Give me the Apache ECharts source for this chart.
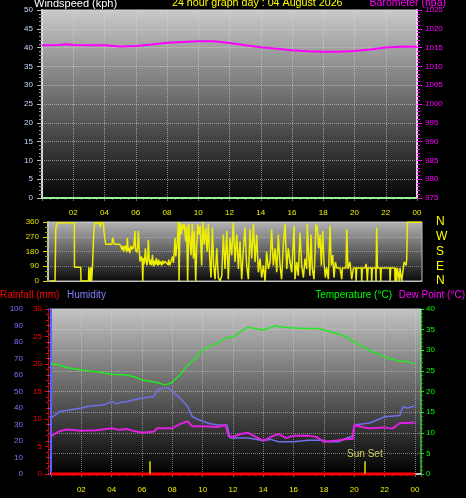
<!DOCTYPE html>
<html><head><meta charset="utf-8">
<script src="https://cdn.jsdelivr.net/npm/echarts@6/dist/echarts.min.js"></script>
<style>html,body{margin:0;padding:0;background:#000;overflow:hidden}#c{width:466px;height:498px}</style>
</head><body><div id="c"></div>
<script>
// ---------- data ----------
const chartTitle = '24 hour graph day : 04 August 2026';
const compassLabels = ['N', 'E', 'S', 'W', 'N']; // for 0,90,180,270,360
const barometer = [[0,1015.6],[1,1015.7],[1.6,1015.9],[2,1015.7],[3,1015.6],[4,1015.6],[5,1015.3],[6,1015.4],[7,1015.8],[8,1016.3],[9,1016.5],[10,1016.7],[11,1016.7],[12,1016.2],[13,1015.6],[14,1015.1],[15,1014.7],[16,1014.3],[17,1014.0],[18,1013.9],[19,1013.9],[20,1014.1],[21,1014.5],[22,1015.0],[23,1015.3],[24,1015.2]];
const windSpeed = [[0,0],[24,0]];
const windDir = [
 [0.13,0],[0.45,0],[0.5,320],[0.6,355],[1.69,355],[1.7,84],[2.1,84],[2.12,0],[2.6,0],[2.62,84],[2.7,0],[2.75,84],[2.8,0],[2.85,84],[2.9,84],[2.95,320],[3.0,355],[3.3,355],[3.35,330],[3.4,355],[3.55,355],[3.6,290],[3.66,300],[3.7,225],[4.1,225],[4.15,265],[4.25,225],[4.6,225],
 [4.7,205],[4.75,190],[4.8,215],[4.85,180],[4.9,200],[4.95,215],[5.0,195],[5.05,175],[5.09,263],[5.15,185],[5.2,200],[5.25,170],[5.3,215],[5.35,190],[5.4,210],[5.45,195],[5.5,210],[5.58,305],[5.62,190],[5.7,175],[5.75,205],[5.8,305],[5.85,200],[5.9,120],[6.0,150],[6.05,110],[6.08,0],[6.12,140],[6.15,100],[6.2,130],[6.25,200],[6.3,120],[6.35,95],[6.4,140],[6.44,252],[6.5,120],[6.55,100],[6.6,130],[6.65,95],[6.7,160],[6.75,110],[6.8,90],[6.85,125],[6.9,100],[6.95,140],[7.0,110],[7.05,95],[7.1,130],[7.15,100],[7.2,120],[7.3,95],[7.35,125],[7.4,105],[7.5,120],[7.6,125],[7.7,100],[7.75,130],[7.8,95],[7.9,120],[8.0,150],[8.05,110],[8.1,180],[8.15,263],[8.2,150],[8.25,160],[8.3,240],[8.37,358],
 [8.41,0],[8.47,358],[8.54,284],[8.62,347],[8.69,316],[8.75,347],[8.84,242],[8.9,337],[8.96,0],[9.03,347],[9.11,337],[9.18,158],[9.26,347],[9.33,137],[9.39,305],[9.48,0],[9.54,200],[9.61,347],[9.69,284],[9.76,337],[9.86,95],[9.93,358],[10.03,221],[10.12,326],[10.21,179],[10.29,347],[10.38,137],[10.46,21],[10.55,326],[10.63,95],[10.72,11],[10.83,200],[10.93,21],[11.04,0],[11.15,32],[11.25,284],[11.36,74],[11.47,305],[11.57,11],[11.68,263],[11.79,158],[11.89,358],[12.0,116],[12.11,284],[12.22,74],[12.32,242],[12.43,11],[12.54,200],[12.64,326],[12.75,95],[12.86,11],[12.96,316],[13.07,137],[13.18,347],[13.29,116],[13.39,284],[13.5,53],[13.61,137],[13.71,21],[13.82,95],[13.93,0],[14.03,179],[14.14,74],[14.25,116],[14.35,316],[14.46,95],[14.57,200],[14.68,53],[14.78,284],[14.89,95],[14.99,11],[15.1,221],[15.21,347],[15.32,74],[15.42,200],[15.53,116],
 [15.64,53],[15.79,337],[15.85,11],[15.96,116],[16.06,32],[16.17,295],[16.28,95],[16.39,21],[16.49,137],[16.6,74],[16.64,347],[16.73,158],[16.81,32],[16.88,284],[16.96,74],[17.07,11],[17.2,347],[17.28,326],[17.37,200],[17.46,284],[17.54,95],[17.63,305],[17.71,116],[17.8,21],[17.88,84],[17.99,11],[18.1,337],[18.18,95],[18.27,158],[18.35,21],[18.44,116],[18.53,80],[18.74,80],[18.85,11],[18.89,80],[19.12,80],[19.17,316],[19.25,74],[19.38,116],[19.49,11],[19.6,80],[19.74,80],[19.77,0],[19.81,80],[20.11,80],[20.13,0],[20.17,80],[20.37,80],[20.41,105],[20.45,80],[20.49,0],[20.54,80],[20.75,80],[20.77,0],[20.81,80],[21.03,80],[21.05,0],[21.09,326],[21.14,80],[21.33,80],[21.35,0],[21.39,80],[21.93,80],[21.95,0],[21.99,80],[22.25,80],[22.27,0],[22.31,80],[22.36,80],[22.38,0],[22.42,80],[22.53,80],[22.55,0],[22.59,80],[22.68,80],[22.7,0],[22.8,0],[22.85,116],[22.98,95],[23.02,137],[23.06,358],[24.0,358]
];
const rainfall = [[0,0],[24,0]];
const temperature = [[0,26.7],[0.5,26.5],[1,25.8],[2,25.2],[3,24.8],[4,24.2],[5,24.0],[5.5,23.5],[6,22.8],[7,22.2],[7.5,21.6],[7.8,21.9],[8,22.3],[8.5,24.0],[9,26.4],[9.5,28.0],[10,30.0],[10.5,31.0],[11,31.8],[11.5,33.0],[12,33.2],[12.5,34.5],[13,35.6],[13.5,35.2],[14,34.9],[14.5,35.5],[14.8,35.9],[15.5,35.5],[16,35.4],[17,35.3],[17.5,35.3],[18,34.9],[19,33.9],[19.5,33.2],[20,32.0],[20.5,31.0],[21,30.0],[21.5,29.2],[22,28.4],[22.5,27.8],[23,27.4],[23.5,27.2],[24,26.7]];
const humidity = [[0,34],[0.3,36],[0.6,38],[1,38.5],[2,40],[2.5,41],[3,41.5],[3.5,42],[4,44],[4.3,42.5],[4.6,43.5],[5,44],[5.5,45],[6,46],[6.8,47],[7,51],[7.7,52.5],[8,50],[8.5,46],[9,41],[9.3,35],[9.7,33],[10,32],[10.5,30.5],[11,29.7],[11.6,29.7],[11.8,22],[12,21.8],[13,21.8],[13.5,21],[14,20.2],[14.5,21],[15,19.6],[16,19.6],[17,20.5],[18,20.5],[18.2,19.6],[19,19.6],[19.5,21.8],[19.9,23],[20,29.7],[21,30.9],[21.5,32.7],[22,34.7],[23,35.5],[23.2,40.6],[23.5,40],[24,41.2]];
const dewPoint = [[0,9.2],[0.5,10.3],[1,10.8],[2,10.5],[3,10.6],[4,11.1],[4.5,10.7],[5,10.9],[5.5,10.4],[6,10.0],[6.8,10.3],[7,11.1],[8,11.1],[8.5,12.1],[9,12.8],[9.3,11.6],[10,11.6],[11,11.4],[11.5,11.9],[11.7,9.2],[12,9.0],[12.5,9.7],[13,10.0],[13.5,9.0],[14,8.1],[14.5,9.0],[15,9.7],[15.5,8.7],[16,9.3],[17,9.3],[17.5,9.0],[18,7.8],[19,8.2],[19.5,8.5],[19.9,8.5],[20,11.9],[20.5,11.4],[21,11.1],[22,11.3],[22.5,11.0],[23,12.3],[24,12.5]];
const sunRise = 6.53, sunSet = 20.7, sunMarkTop = 2.3;

// ---------- chart ----------
const FONT = 'Liberation Sans';
const fmtHour = v => (v > 0 && v <= 24 && Math.abs(v % 2) < 1e-6) ? String(v % 24).padStart(2, '0') : '';
const plain = v => String(v);
const grad = (a, b) => ({type:'linear', x:0, y:0, x2:0, y2:1, colorStops:[{offset:0,color:a},{offset:1,color:b}]});
const dotted = c => ({show:true, lineStyle:{color:c, type:'dotted', width:1}});
const tfont = s => s + 'px "Liberation Sans"';

const chart = echarts.init(document.getElementById('c'), null, {renderer:'canvas'});
chart.setOption({
  backgroundColor:'#000',
  animation:false,
  textStyle:{fontFamily:FONT},
  graphic:[
    {type:'text', x:34, y:-2, style:{text:'Windspeed (kph)', fill:'#ffffff', font:tfont(11)}},
    {type:'text', x:172, y:-2, style:{text:chartTitle, fill:'#ffff00', font:tfont(10.7)}},
    {type:'text', x:446, y:-2, style:{text:'Barometer (hpa)', fill:'#ff00ff', font:tfont(10.5), align:'right', textAlign:'right'}},
    {type:'text', x:0, y:290, style:{text:'Rainfall (mm)', fill:'#ff0000', font:tfont(10)}},
    {type:'text', x:67, y:290, style:{text:'Humidity', fill:'#8080ff', font:tfont(10)}},
    {type:'text', x:392, y:290, style:{text:'Temperature (°C)', fill:'#00ff00', font:tfont(10), align:'right', textAlign:'right'}},
    {type:'text', x:465, y:290, style:{text:'Dew Point (°C)', fill:'#ff00ff', font:tfont(10), align:'right', textAlign:'right'}}
  ],
  grid:[
    {left:42, right:49, top:10, height:188, show:true, backgroundColor:grad('#cacaca','#050505'), borderColor:'#d0d0d0', borderWidth:1},
    {left:48, right:44, top:222, height:59, show:true, backgroundColor:grad('#b4b4b4','#0a0a0a'), borderColor:'#c0c0c0', borderWidth:1},
    {left:51, right:45, top:309, height:165, show:true, backgroundColor:grad('#c4c4c4','#000000'), borderColor:'#c0c0c0', borderWidth:1}
  ],
  xAxis:[
    {type:'value', gridIndex:0, min:0, max:24, interval:2,
     axisLine:{show:true, lineStyle:{color:'#d8d8d8', width:2}},
     axisTick:{show:true, length:3, lineStyle:{color:'#666'}},
     minorTick:{show:true, splitNumber:4, length:2, lineStyle:{color:'#555'}},
     axisLabel:{color:'#f0f000', fontSize:8, margin:11, formatter:fmtHour},
     splitLine:dotted('rgba(220,220,220,0.55)')},
    {type:'value', gridIndex:1, min:0, max:24, interval:2,
     axisLine:{show:true, lineStyle:{color:'#c0c0c0'}}, axisTick:{show:false}, axisLabel:{show:false}, splitLine:{show:false}},
    {type:'value', gridIndex:2, min:0, max:24.4, interval:2,
     axisLine:{show:true, lineStyle:{color:'#c0c0c0', width:2}},
     axisTick:{show:true, length:3, lineStyle:{color:'#666'}},
     minorTick:{show:true, splitNumber:4, length:2, lineStyle:{color:'#555'}},
     axisLabel:{color:'#f0f000', fontSize:8, margin:12, formatter:fmtHour},
     splitLine:dotted('rgba(220,220,220,0.5)')}
  ],
  yAxis:[
    {type:'value', gridIndex:0, position:'left', min:0, max:50, interval:5,
     axisLine:{show:true, lineStyle:{color:'#d8d8d8', width:2}},
     axisTick:{show:true, length:5, lineStyle:{color:'#bbb'}},
     minorTick:{show:true, splitNumber:5, length:3, lineStyle:{color:'#999'}},
     axisLabel:{color:'#c8dcff', fontSize:8, margin:9, formatter:plain},
     splitLine:dotted('rgba(220,220,220,0.55)')},
    {type:'value', gridIndex:0, position:'right', min:975, max:1025, interval:5,
     axisLine:{show:true, lineStyle:{color:'#f0d0f0', width:2}},
     axisTick:{show:true, length:5, lineStyle:{color:'#ff00ff'}},
     minorTick:{show:true, splitNumber:5, length:3, lineStyle:{color:'#ff00ff'}},
     axisLabel:{color:'#ff00ff', fontSize:8, margin:8, formatter:plain},
     splitLine:{show:false}},
    {type:'value', gridIndex:1, position:'left', min:0, max:360, interval:90,
     axisLine:{show:true, lineStyle:{color:'#c0c0c0', width:2}},
     axisTick:{show:true, length:5, lineStyle:{color:'#d8d800'}},
     minorTick:{show:true, splitNumber:3, length:3, lineStyle:{color:'#a0a000'}},
     axisLabel:{color:'#e0e000', fontSize:8, margin:9, formatter:plain},
     splitLine:dotted('rgba(220,220,220,0.45)')},
    {type:'value', gridIndex:1, position:'right', min:0, max:360, interval:90,
     axisLine:{show:false}, axisTick:{show:false}, splitLine:{show:false},
     axisLabel:{color:'#ffff00', fontSize:12, margin:14, formatter:v => compassLabels[Math.round(v/90)]}},
    {type:'value', gridIndex:2, position:'left', offset:21, min:0, max:100, interval:10,
     axisLine:{show:true, lineStyle:{color:'#6060ff', width:2}},
     axisTick:{show:true, length:4, lineStyle:{color:'#6060ff'}},
     minorTick:{show:true, splitNumber:2, length:2, lineStyle:{color:'#6060ff'}},
     axisLabel:{color:'#7878ff', fontSize:8, margin:7, formatter:plain},
     splitLine:{show:false}},
    {type:'value', gridIndex:2, position:'left', offset:3, min:0, max:30, interval:5,
     axisLine:{show:true, lineStyle:{color:'#ff0000', width:1, type:'dotted'}},
     axisTick:{show:true, length:3, lineStyle:{color:'#ff0000'}},
     minorTick:{show:true, splitNumber:5, length:2, lineStyle:{color:'#ff0000'}},
     axisLabel:{color:'#ff0000', fontSize:8, margin:6, formatter:plain},
     splitLine:{show:false}},
    {type:'value', gridIndex:2, position:'right', min:0, max:40, interval:5,
     axisLine:{show:true, lineStyle:{color:'#00d000', width:1, type:'dotted'}},
     axisTick:{show:true, length:3, lineStyle:{color:'#00ff00'}},
     minorTick:{show:true, splitNumber:5, length:2, lineStyle:{color:'#00c000'}},
     axisLabel:{color:'#00ff00', fontSize:8, margin:5, formatter:plain},
     splitLine:dotted('rgba(220,220,220,0.5)')}
  ],
  series:[
    {name:'Windspeed', type:'line', xAxisIndex:0, yAxisIndex:0, data:windSpeed, symbol:'none', clip:false, lineStyle:{color:'#98f098', width:2}, z:5},
    {name:'Barometer', type:'line', xAxisIndex:0, yAxisIndex:1, data:barometer, symbol:'none', lineStyle:{color:'#ff00ff', width:2}},
    {name:'Wind Direction', type:'line', xAxisIndex:1, yAxisIndex:2, data:windDir, symbol:'none', lineStyle:{color:'#eeee00', width:1.5}},
    {name:'Temperature', type:'line', xAxisIndex:2, yAxisIndex:6, data:temperature, symbol:'none', lineStyle:{color:'#22e822', width:1.5}},
    {name:'Humidity', type:'line', xAxisIndex:2, yAxisIndex:4, data:humidity, symbol:'none', lineStyle:{color:'#7070e8', width:1.5}},
    {name:'Dew Point', type:'line', xAxisIndex:2, yAxisIndex:6, data:dewPoint, symbol:'none', lineStyle:{color:'#e020e0', width:2}},
    {name:'Rainfall', type:'line', xAxisIndex:2, yAxisIndex:5, data:rainfall, symbol:'none', clip:false, lineStyle:{color:'#ff0000', width:3}, z:4,
     markLine:{symbol:'none', silent:true, lineStyle:{color:'#a8a800', width:2, type:'solid'},
       data:[
         [{coord:[sunRise,0], label:{show:false}}, {coord:[sunRise,sunMarkTop]}],
         [{coord:[sunSet,0], label:{show:true, position:'end', formatter:'Sun Set', color:'#d0d060', fontSize:10, distance:2}}, {coord:[sunSet,sunMarkTop]}]
       ]}}
  ]
});
</script></body></html>
